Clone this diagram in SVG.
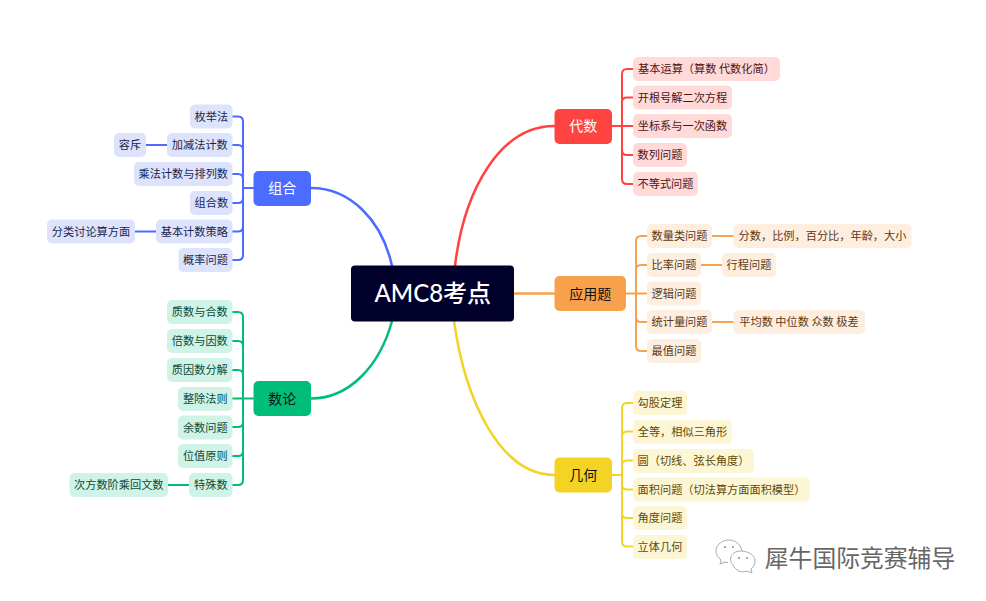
<svg xmlns="http://www.w3.org/2000/svg" width="986" height="601" viewBox="0 0 986 601">
<style>
text{font-family:"Noto Sans CJK SC","Noto Sans",sans-serif;text-anchor:middle;text-spacing-trim:space-all}
.c{fill:none;stroke-width:2;stroke-linecap:round}
.m{stroke-width:2.5}
.r{stroke:#ff4340}.o{stroke:#f7a14c}.y{stroke:#f3d324}.b{stroke:#4b6cff}.g{stroke:#00bd7a}
.t{font-size:11.2px}
.h{font-size:14px}
.rb{fill:#ffdad9}.ob{fill:#fdeee0}.yb{fill:#fdf6d5}.bb{fill:#dde3fd}.gb{fill:#cff3e6}
.rt{fill:#4d1414}.ot{fill:#5a3a14}.yt{fill:#5c4a08}.bt{fill:#1a1f4d}.gt{fill:#0e4a36}
</style>
<rect width="986" height="601" fill="#fff"/>
<g id="connectors">
<path class="c m r" d="M455 266C464 190 500 126 554.500 126"/>
<path class="c m o" d="M514 293.500H554.500"/>
<path class="c m y" d="M454 321C465 400 500 475 554.500 475"/>
<path class="c m b" d="M392 266C382 220 350 188 311 188"/>
<path class="c m g" d="M392 321C380 365 350 398.500 311 398.500"/>
<path class="c r" d="M612 126H633M633 69H627Q622 69 622 74V179Q622 184 627 184H633M622 102Q622 97.500 627 97.500H633M622 150Q622 155 627 155H633"/>
<path class="c o" d="M626 293.500H647M647 236H641Q636 236 636 241V346Q636 351 641 351H647M636 270Q636 265 641 265H647M636 317Q636 322 641 322H647M712 236H733M701 265H722M712 322H733"/>
<path class="c y" d="M612 475H622M633 403H627Q622 403 622 408V541.500Q622 546.500 627 546.500H633M622 436.500Q622 431.500 627 431.500H633M622 465.500Q622 460.500 627 460.500H633M622 484.500Q622 489.500 627 489.500H633M622 513Q622 518 627 518H633"/>
<path class="c b" d="M253.500 188H243M232.500 116.500H238Q243 116.500 243 121.500V255Q243 260 238 260H232.500M243 150Q243 145 238 145H232.500M243 179Q243 174 238 174H232.500M243 198Q243 203 238 203H232.500M243 226.500Q243 231.500 238 231.500H232.500M167 145H146M156 231.500H135"/>
<path class="c g" d="M253.500 398.500H232.500M232.500 312H238Q243 312 243 317V480Q243 485 238 485H232.500M243 346Q243 341 238 341H232.500M243 375Q243 370 238 370H232.500M243 422Q243 427 238 427H232.500M243 451Q243 456 238 456H232.500M189 485H168"/>
</g>
<g id="root"><rect x="351" y="265.500" width="163" height="56" rx="4" fill="#00002a"/><text x="432.800" y="302" font-size="24" fill="#fff" style="font-family:Lato,'Noto Sans CJK SC',sans-serif;font-weight:500">AMC8考点</text></g>
<g id="n-daishu"><rect x="554.500" y="109" width="57.500" height="35" rx="5" fill="#ff4340"/><text class="h" x="583.300" y="131" fill="#fff">代数</text></g>
<g id="n-yingyong"><rect x="554.500" y="276" width="71.500" height="35" rx="5" fill="#f7a14c"/><text class="h" x="590.300" y="298.500" fill="#111">应用题</text></g>
<g id="n-jihe"><rect x="554.500" y="457.500" width="57.500" height="35" rx="5" fill="#f3d324"/><text class="h" x="583.300" y="480" fill="#111">几何</text></g>
<g id="n-zuhe"><rect x="253.500" y="171" width="57.500" height="35" rx="5" fill="#4b6cff"/><text class="h" x="282.300" y="193" fill="#fff">组合</text></g>
<g id="n-shulun"><rect x="253.500" y="381" width="57.500" height="35" rx="5" fill="#00bd7a"/><text class="h" x="282.300" y="403.500" fill="#111">数论</text></g>

<g id="d1"><rect class="rb" x="633" y="57" width="147" height="24" rx="5"/><text class="t rt" x="706.500" y="73">基本运算（算数 代数化简）</text></g>
<g id="d2"><rect class="rb" x="633" y="85.500" width="99" height="24" rx="5"/><text class="t rt" x="682.500" y="101.500">开根号解二次方程</text></g>
<g id="d3"><rect class="rb" x="633" y="114" width="99" height="24" rx="5"/><text class="t rt" x="682.500" y="130">坐标系与一次函数</text></g>
<g id="d4"><rect class="rb" x="633" y="143" width="54" height="24" rx="5"/><text class="t rt" x="660" y="159">数列问题</text></g>
<g id="d5"><rect class="rb" x="633" y="172" width="65" height="24" rx="5"/><text class="t rt" x="665.500" y="188">不等式问题</text></g>

<g id="y1"><rect class="ob" x="647" y="224" width="65" height="24" rx="5"/><text class="t ot" x="679.500" y="240">数量类问题</text></g>
<g id="y1a"><rect class="ob" x="733.500" y="224" width="178" height="24" rx="5"/><text class="t ot" x="822.500" y="240">分数，比例，百分比，年龄，大小</text></g>
<g id="y2"><rect class="ob" x="647" y="253" width="54" height="24" rx="5"/><text class="t ot" x="674" y="269">比率问题</text></g>
<g id="y2a"><rect class="ob" x="722" y="253" width="54" height="24" rx="5"/><text class="t ot" x="749" y="269">行程问题</text></g>
<g id="y3"><rect class="ob" x="647" y="281.500" width="54" height="24" rx="5"/><text class="t ot" x="674" y="297.500">逻辑问题</text></g>
<g id="y4"><rect class="ob" x="647" y="310" width="65" height="24" rx="5"/><text class="t ot" x="679.500" y="326">统计量问题</text></g>
<g id="y4a"><rect class="ob" x="733.500" y="310" width="131.500" height="24" rx="5"/><text class="t ot" x="799" y="326">平均数 中位数 众数 极差</text></g>
<g id="y5"><rect class="ob" x="647" y="339" width="54" height="24" rx="5"/><text class="t ot" x="674" y="355">最值问题</text></g>

<g id="j1"><rect class="yb" x="633" y="391" width="54" height="24" rx="5"/><text class="t yt" x="660" y="407">勾股定理</text></g>
<g id="j2"><rect class="yb" x="633" y="420" width="99" height="24" rx="5"/><text class="t yt" x="682.500" y="436">全等，相似三角形</text></g>
<g id="j3"><rect class="yb" x="633" y="449" width="121" height="24" rx="5"/><text class="t yt" x="693.500" y="465">圆（切线、弦长角度）</text></g>
<g id="j4"><rect class="yb" x="633" y="477.500" width="177" height="24" rx="5"/><text class="t yt" x="721.500" y="493.500">面积问题（切法算方面面积模型）</text></g>
<g id="j5"><rect class="yb" x="633" y="506" width="54" height="24" rx="5"/><text class="t yt" x="660" y="522">角度问题</text></g>
<g id="j6"><rect class="yb" x="633" y="535" width="54" height="24" rx="5"/><text class="t yt" x="660" y="551">立体几何</text></g>

<g id="z1"><rect class="bb" x="190" y="104.500" width="42.500" height="24" rx="5"/><text class="t bt" x="211.300" y="120.500">枚举法</text></g>
<g id="z2"><rect class="bb" x="167" y="133" width="65.500" height="24" rx="5"/><text class="t bt" x="199.800" y="149">加减法计数</text></g>
<g id="z2a"><rect class="bb" x="114" y="133" width="32" height="24" rx="5"/><text class="t bt" x="130" y="149">容斥</text></g>
<g id="z3"><rect class="bb" x="134" y="162" width="98.500" height="24" rx="5"/><text class="t bt" x="183.300" y="178">乘法计数与排列数</text></g>
<g id="z4"><rect class="bb" x="190" y="191" width="42.500" height="24" rx="5"/><text class="t bt" x="211.300" y="207">组合数</text></g>
<g id="z5"><rect class="bb" x="156" y="219.500" width="76.500" height="24" rx="5"/><text class="t bt" x="194.300" y="235.500">基本计数策略</text></g>
<g id="z5a"><rect class="bb" x="47" y="219.500" width="88" height="24" rx="5"/><text class="t bt" x="91" y="235.500">分类讨论算方面</text></g>
<g id="z6"><rect class="bb" x="178.500" y="248" width="54" height="24" rx="5"/><text class="t bt" x="205.500" y="264">概率问题</text></g>

<g id="s1"><rect class="gb" x="167" y="300" width="65.500" height="24" rx="5"/><text class="t gt" x="199.800" y="316">质数与合数</text></g>
<g id="s2"><rect class="gb" x="167" y="329" width="65.500" height="24" rx="5"/><text class="t gt" x="199.800" y="345">倍数与因数</text></g>
<g id="s3"><rect class="gb" x="167" y="358" width="65.500" height="24" rx="5"/><text class="t gt" x="199.800" y="374">质因数分解</text></g>
<g id="s4"><rect class="gb" x="178" y="387" width="54.500" height="24" rx="5"/><text class="t gt" x="205.300" y="403">整除法则</text></g>
<g id="s5"><rect class="gb" x="178" y="415.500" width="54.500" height="24" rx="5"/><text class="t gt" x="205.300" y="431.500">余数问题</text></g>
<g id="s6"><rect class="gb" x="178" y="444" width="54.500" height="24" rx="5"/><text class="t gt" x="205.300" y="460">位值原则</text></g>
<g id="s7"><rect class="gb" x="189" y="473" width="43.500" height="24" rx="5"/><text class="t gt" x="210.800" y="489">特殊数</text></g>
<g id="s7a"><rect class="gb" x="69.500" y="473" width="98.500" height="24" rx="5"/><text class="t gt" x="118.800" y="489">次方数阶乘回文数</text></g>

<g id="watermark">
<path d="M742 551c-2-9-9-11-13-11-6 0-13 4-13 11 0 4 2 6 5 9l-1 4 5-2 3 .5" fill="#fff" stroke="#aaa" stroke-width="1"/>
<path d="M733 565c-4-3-4-14 8-14 5 0 14 3 14 10 0 4-2 6-4 8l1 4-5-2c-6 2-11 0-14-6z" fill="#fff" stroke="#aaa" stroke-width="1"/>
<circle cx="725" cy="547" r="1" fill="#888"/><circle cx="733" cy="547" r="1" fill="#888"/><circle cx="739" cy="558" r="1" fill="#888"/><circle cx="747" cy="558" r="1" fill="#888"/>
<text x="860" y="567" font-size="23.800" fill="#666">犀牛国际竞赛辅导</text>
</g>
</svg>
